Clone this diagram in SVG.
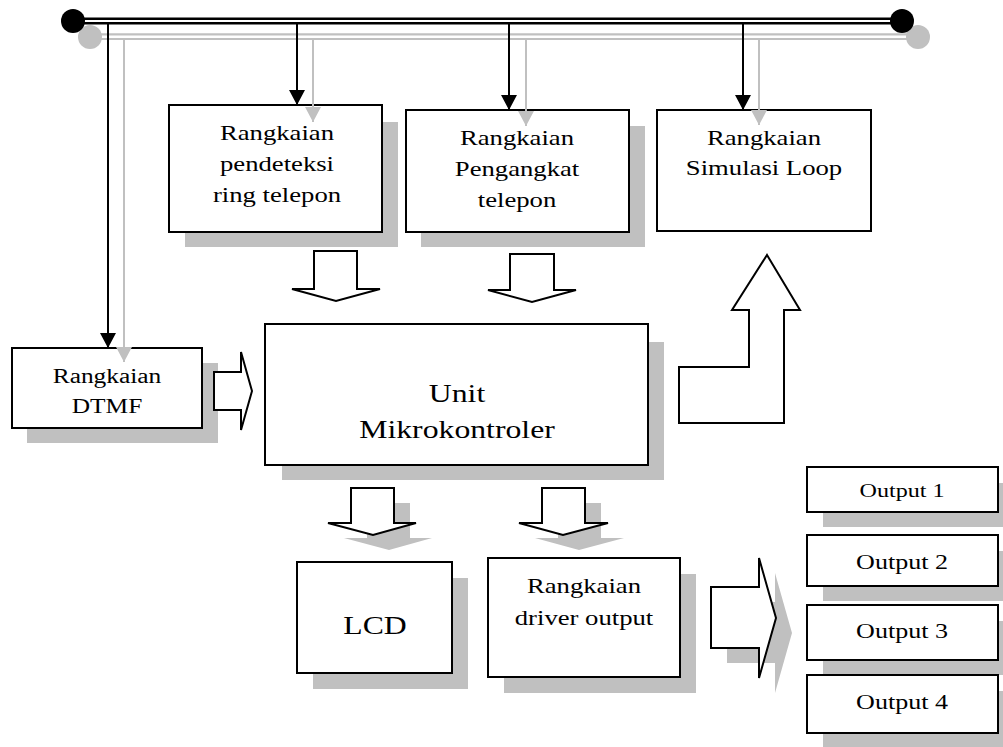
<svg xmlns="http://www.w3.org/2000/svg" width="1003" height="747" viewBox="0 0 1003 747">
<style>
  .box { fill: #ffffff; stroke: #000000; stroke-width: 2; }
  .sh { fill: #c0c0c0; stroke: none; }
  .ba { fill: #ffffff; stroke: #000000; stroke-width: 2; stroke-linejoin: miter; }
  .t { font-family: "Liberation Serif", "Times New Roman", serif; font-size: 21px; fill: #000000; text-anchor: middle; }
  .tl { font-size: 25px; }
  .ln { stroke: #000000; stroke-width: 2; fill: none; }
  .lg { stroke: #c0c0c0; stroke-width: 2; fill: none; }
</style>
<defs>
  <marker id="ab" markerUnits="userSpaceOnUse" markerWidth="16" markerHeight="16" refX="15" refY="8" orient="auto">
    <path d="M0,0 L15,8 L0,16 z" fill="#000000"/>
  </marker>
  <marker id="ag" markerUnits="userSpaceOnUse" markerWidth="16" markerHeight="16" refX="15" refY="8" orient="auto">
    <path d="M0,0 L15,8 L0,16 z" fill="#c0c0c0"/>
  </marker>
</defs>
<rect width="1003" height="747" fill="#ffffff"/>

<g id="node-ring">
  <rect class="sh" x="185" y="122" width="213" height="125"/>
  <rect class="box" x="169" y="105" width="213" height="127"/>
  <text class="t" transform="translate(277 140) scale(1.27 1)"><tspan x="0">Rangkaian</tspan><tspan x="0" dy="31">pendeteksi</tspan><tspan x="0" dy="31">ring telepon</tspan></text>
</g>
<g id="node-pengangkat">
  <rect class="sh" x="421" y="126" width="224" height="121"/>
  <rect class="box" x="406" y="110" width="223" height="122"/>
  <text class="t" transform="translate(517 145) scale(1.27 1)"><tspan x="0">Rangkaian</tspan><tspan x="0" dy="31">Pengangkat</tspan><tspan x="0" dy="31">telepon</tspan></text>
</g>
<g id="node-loop">
  <rect class="box" x="657" y="110" width="214" height="121"/>
  <text class="t" transform="translate(764 145) scale(1.27 1)"><tspan x="0">Rangkaian</tspan><tspan x="0" dy="30">Simulasi Loop</tspan></text>
</g>
<g id="node-dtmf">
  <rect class="sh" x="27" y="363" width="191" height="80"/>
  <rect class="box" x="12" y="348" width="190" height="80"/>
  <text class="t" transform="translate(107 383) scale(1.27 1)" style="font-size:20px"><tspan x="0">Rangkaian</tspan><tspan x="0" dy="30">DTMF</tspan></text>
</g>
<g id="node-mcu">
  <rect class="sh" x="282" y="342" width="382" height="138"/>
  <rect class="box" x="265" y="324" width="383" height="141"/>
  <text class="t tl" transform="translate(457 402) scale(1.27 1)"><tspan x="0">Unit</tspan><tspan x="0" dy="36">Mikrokontroler</tspan></text>
</g>
<g id="node-lcd">
  <rect class="sh" x="313" y="578" width="155" height="111"/>
  <rect class="box" x="297" y="562" width="155" height="111"/>
  <text class="t tl" transform="translate(375 634) scale(1.27 1)">LCD</text>
</g>
<g id="node-driver">
  <rect class="sh" x="504" y="574" width="192" height="119"/>
  <rect class="box" x="488" y="558" width="192" height="119"/>
  <text class="t" transform="translate(584 593) scale(1.27 1)"><tspan x="0">Rangkaian</tspan><tspan x="0" dy="32">driver output</tspan></text>
</g>
<g id="node-out1">
  <rect class="sh" x="823" y="483" width="192" height="44"/>
  <rect class="box" x="807" y="467" width="191" height="45"/>
  <text class="t" transform="translate(902 497) scale(1.27 1)" style="font-size:19px">Output 1</text>
</g>
<g id="node-out2">
  <rect class="sh" x="823" y="551" width="192" height="50"/>
  <rect class="box" x="807" y="535" width="191" height="51"/>
  <text class="t" transform="translate(902 569) scale(1.27 1)" style="font-size:20.5px">Output 2</text>
</g>
<g id="node-out3">
  <rect class="sh" x="823" y="621" width="192" height="54"/>
  <rect class="box" x="807" y="605" width="191" height="55"/>
  <text class="t" transform="translate(902 638) scale(1.27 1)" style="font-size:20.5px">Output 3</text>
</g>
<g id="node-out4">
  <rect class="sh" x="823" y="691" width="192" height="58"/>
  <rect class="box" x="807" y="675" width="191" height="58"/>
  <text class="t" transform="translate(902 709) scale(1.27 1)" style="font-size:20.5px">Output 4</text>
</g>

<g id="connectors">
  <!-- gray shadow bus -->
  <line x1="90" y1="36.7" x2="918" y2="36.7" stroke="#c0c0c0" stroke-width="6.7"/>
  <line x1="90" y1="36.7" x2="918" y2="36.7" stroke="#ffffff" stroke-width="2.5"/>
  <circle cx="90" cy="37" r="12" fill="#c0c0c0"/>
  <circle cx="918" cy="37" r="12" fill="#c0c0c0"/>
  <line class="lg" x1="124" y1="38" x2="124" y2="362" marker-end="url(#ag)"/>
  <line class="lg" x1="313" y1="38" x2="313" y2="122" marker-end="url(#ag)"/>
  <line class="lg" x1="526" y1="38" x2="526" y2="126" marker-end="url(#ag)"/>
  <line class="lg" x1="759" y1="38" x2="759" y2="125" marker-end="url(#ag)"/>
  <!-- black bus -->
  <line x1="73" y1="21" x2="902" y2="21" stroke="#000000" stroke-width="7"/>
  <line x1="73" y1="21" x2="902" y2="21" stroke="#ffffff" stroke-width="2"/>
  <circle cx="73" cy="21" r="12" fill="#000000"/>
  <circle cx="902" cy="21" r="12" fill="#000000"/>
  <line class="ln" x1="108" y1="22" x2="108" y2="348" marker-end="url(#ab)"/>
  <line class="ln" x1="297" y1="22" x2="297" y2="105" marker-end="url(#ab)"/>
  <line class="ln" x1="509" y1="22" x2="509" y2="110" marker-end="url(#ab)"/>
  <line class="ln" x1="743" y1="22" x2="743" y2="110" marker-end="url(#ab)"/>

  <!-- block arrows -->
  <polygon class="ba" points="314,251 357,251 357,289 380,289 336,301 292,289 314,289"/>
  <polygon class="ba" points="510,254 554,254 554,290 576,290 532,302 488,290 510,290"/>
  <polygon class="ba" points="214,372 241,372 241,352 252,391 241,430 241,410 214,410"/>
  <polygon class="ba" points="767,255 800,310 784,310 784,423 679,423 679,367 749,367 749,310 732,310"/>
  <polygon class="sh" points="367,503 410,503 410,538 432,538 389,550 344,538 367,538"/>
  <polygon class="ba" points="351,488 394,488 394,523 416,523 373,535 328,523 351,523"/>
  <polygon class="sh" points="558,503 601,503 601,538 624,538 579,550 535,538 558,538"/>
  <polygon class="ba" points="542,488 585,488 585,523 608,523 563,535 519,523 542,523"/>
  <polygon class="sh" points="727,602 775,602 775,573 792,633 775,693 775,663 727,663"/>
  <polygon class="ba" points="711,587 759,587 759,558 776,618 759,678 759,648 711,648"/>
</g>
</svg>
